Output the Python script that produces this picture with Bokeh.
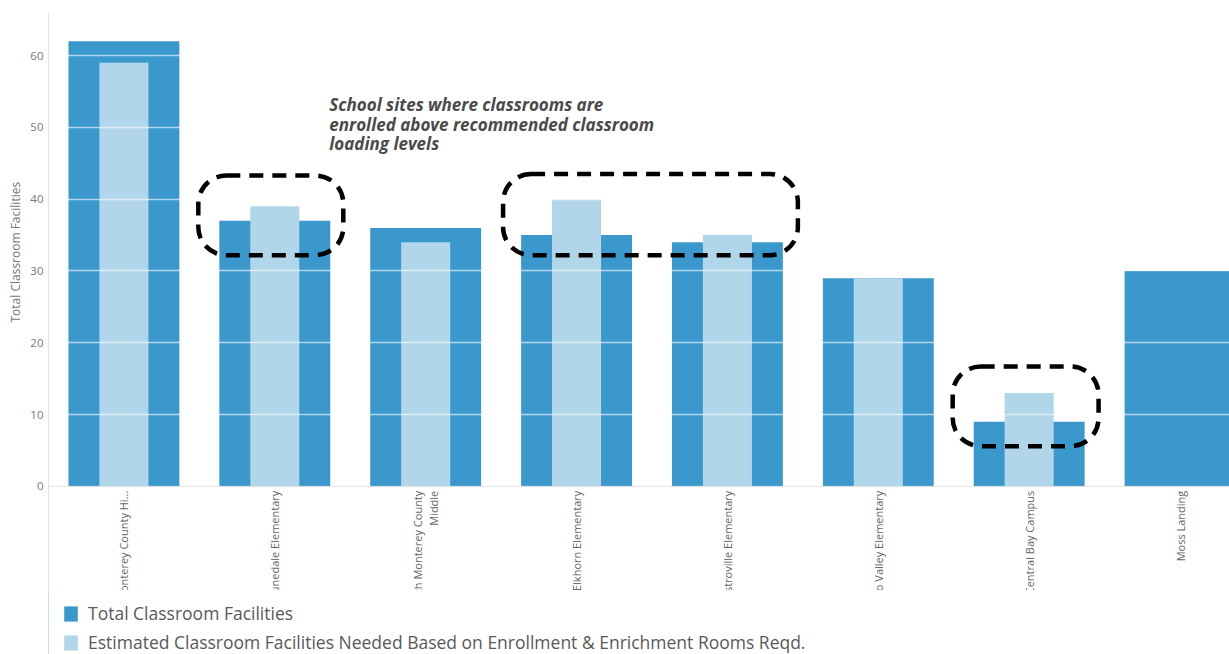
import math
from bokeh.plotting import figure
from bokeh.layouts import column
from bokeh.models import (Range1d, FixedTicker, Span, BoxAnnotation, Label, Title,
                          Legend, LegendItem, ColumnDataSource)
from bokeh.core.properties import value
from bokeh.embed import file_html
from bokeh.resources import INLINE

# ---- data ----
schools = ["North Monterey County Hi...", "Prunedale Elementary",
           "North Monterey County\nMiddle", "Elkhorn Elementary",
           "Castroville Elementary", "Echo Valley Elementary",
           "Central Bay Campus", "Moss Landing"]
total_facilities = [62, 37, 36, 35, 34, 29, 9, 30]
needed_facilities = [59, 39, 34, 40, 35, 29, 13, float("nan")]
y_ticks = [0, 10, 20, 30, 40, 50, 60]

y_title = "Total Classroom Facilities"
note_text = ("School sites where classrooms are\n"
             "enrolled above recommended classroom\n"
             "loading levels")
legend_total = "Total Classroom Facilities"
legend_needed = "Estimated Classroom Facilities Needed Based on Enrollment & Enrichment Rooms Reqd."

DARK = "#3b98cd"
LIGHT = "#b1d6ea"
FONT = "Open Sans"

idx = list(range(len(schools)))
src = ColumnDataSource(dict(x=idx, total=total_facilities, needed=needed_facilities,
                            name=schools, ly=[-0.6] * len(schools)))

W = 1229
H_MAIN, H_LEG = 590, 64
left_border = 47
frame_w = W - left_border
px_per_cat = 151.0

p = figure(width=W, height=H_MAIN, output_backend="svg", toolbar_location=None,
           x_axis_location=None, y_axis_location="left",
           x_range=Range1d(-0.5, -0.5 + frame_w / px_per_cat),
           y_range=Range1d(-14.5, 66.0),
           min_border_left=left_border, min_border_right=0,
           min_border_top=12, min_border_bottom=0)
p.outline_line_color = None
p.background_fill_color = "white"
p.border_fill_color = "white"

r_total = p.vbar(x="x", top="total", bottom=0, width=0.735, source=src,
                 fill_color=DARK, line_color=None)
r_needed = p.vbar(x="x", top="needed", bottom=0, width=0.325, source=src,
                  fill_color=LIGHT, line_color=None)

# zero line
p.add_layout(Span(location=0, dimension="width", line_color="#e3e3e3", line_width=1))

# grid drawn over bars in white
p.xgrid.visible = False
p.ygrid.ticker = FixedTicker(ticks=[t for t in y_ticks if t > 0])
p.ygrid.grid_line_color = "white"
p.ygrid.grid_line_alpha = 0.6
p.ygrid.grid_line_width = 1.5
p.ygrid.level = "annotation"

# y axis
ax = p.yaxis[0]
ax.ticker = FixedTicker(ticks=y_ticks)
ax.major_label_text_font = FONT
ax.major_label_text_font_size = "11.5px"
ax.major_label_text_color = "#777777"
ax.major_label_standoff = 5
ax.major_tick_line_color = None
ax.major_tick_out = 0
ax.major_tick_in = 0
ax.minor_tick_line_color = None
ax.minor_tick_out = 0
ax.axis_line_color = "#e3e3e3"

# y axis title, centred on the 0..top part of the axis (as in the original)
p.add_layout(Title(text=y_title, align="left", offset=268, standoff=8,
                   text_font=FONT, text_font_size="12px", text_font_style="normal",
                   text_color="#777777"), "left")

# category labels (clipped by the frame like the original)
p.text(x="x", y="ly", text="name", source=src, angle=math.pi / 2,
       text_align="right", text_baseline="middle",
       text_font=value(FONT), text_font_size="11px", text_color="#666666",
       text_line_height=1.1)

# dashed highlight boxes
boxes = [(0.493, 1.454, 43.3, 32.2), (2.513, 4.467, 43.5, 32.2), (5.493, 6.46, 16.7, 5.6)]
for l, r, t, b in boxes:
    p.add_layout(BoxAnnotation(left=l, right=r, top=t, bottom=b,
                               fill_alpha=0, fill_color=None,
                               line_color="black", line_alpha=1.0, line_width=4.5,
                               line_dash="14 9", border_radius=28, level="overlay"))

p.add_layout(Label(x=1.361, y=54.8, text=note_text, text_font=FONT,
                   text_font_style="bold italic", text_font_size="17px",
                   text_color="#4a4a4a", text_baseline="top", text_line_height=0.86))

# ---- legend strip below ----
q = figure(width=W, height=H_LEG, output_backend="svg", toolbar_location=None,
           x_axis_location=None, y_axis_location=None,
           x_range=Range1d(0, 1), y_range=Range1d(0, 1),
           min_border_left=0, min_border_right=0, min_border_top=0, min_border_bottom=0)
q.outline_line_color = None
q.xgrid.visible = False
q.ygrid.visible = False
# swatch renderers: one bar each, placed outside the visible range
l_total = q.vbar(x=[-5], top=[1], width=0.1, fill_color=DARK, line_color=None)
l_needed = q.vbar(x=[-5], top=[1], width=0.1, fill_color=LIGHT, line_color=None)
legend = Legend(items=[LegendItem(label=legend_total, renderers=[l_total]),
                       LegendItem(label=legend_needed, renderers=[l_needed])],
                location=(14, 0), orientation="vertical",
                label_text_font=FONT, label_text_font_size="17.5px",
                label_text_color="#595959", glyph_width=17, glyph_height=19,
                label_height=22, label_standoff=9, spacing=5, padding=0, margin=0,
                border_line_color=None, background_fill_alpha=0)
q.add_layout(legend, "center")

open("out.html", "w").write(file_html(column(p, q, spacing=0), INLINE))
